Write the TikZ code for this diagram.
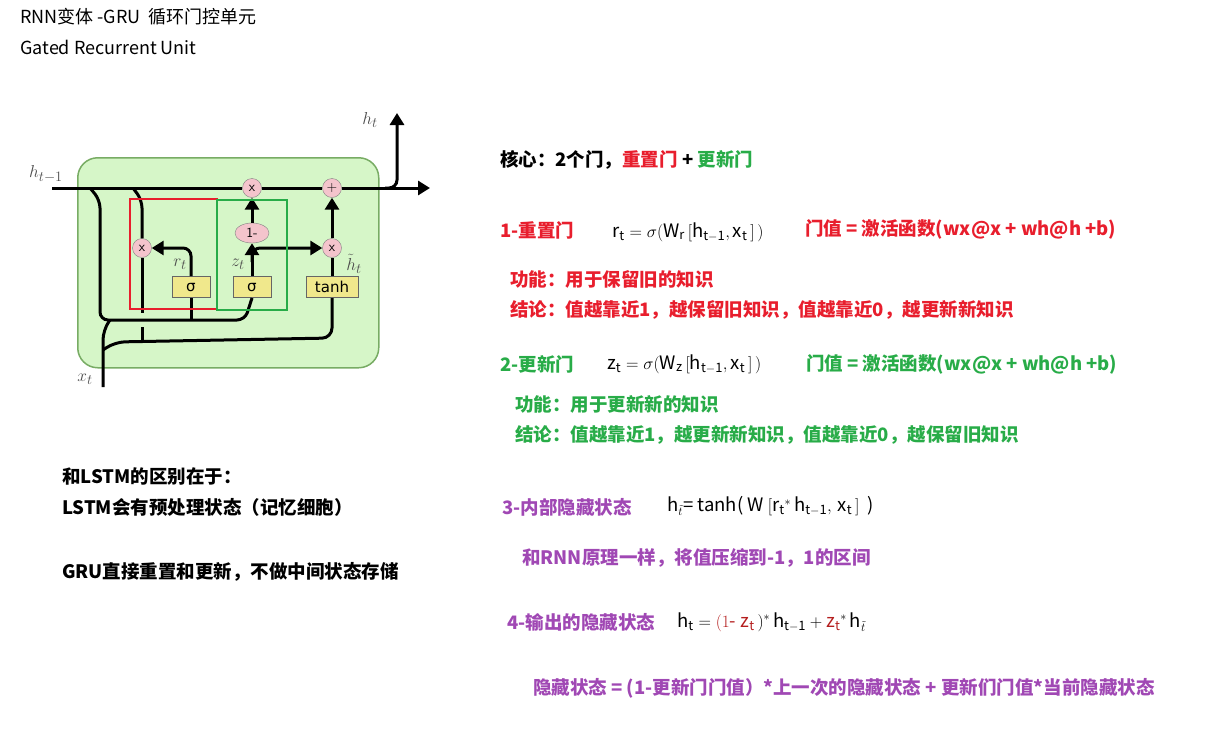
\documentclass[tikz,border=0pt]{standalone}
\usepackage{fontspec}
\setmainfont{Noto Sans CJK SC}
\newfontfamily\dejavu{DejaVu Sans}
\usetikzlibrary{arrows.meta,shapes.geometric}
\definecolor{cred}{RGB}{232,30,45}
\definecolor{cgreen}{RGB}{40,172,72}
\definecolor{cpurple}{RGB}{160,72,180}
\definecolor{cellfill}{RGB}{214,246,200}
\definecolor{cellline}{RGB}{120,172,100}
\definecolor{opfill}{RGB}{244,196,204}
\definecolor{boxfill}{RGB}{240,232,140}
\definecolor{dred}{RGB}{180,30,30}
\begin{document}
\begin{tikzpicture}[x=1pt,y=-1pt,
  txt/.style={anchor=west,inner sep=0pt,font=\fontsize{18.5}{20}\selectfont\bfseries},
  small/.style={anchor=west,inner sep=0pt,font=\fontsize{18}{20}\selectfont},
  frm/.style={anchor=west,inner sep=0pt,font=\fontsize{18.5}{20}\selectfont},
  op/.style={circle,draw=black!50,fill=opfill,minimum size=19pt,inner sep=0pt,font=\fontsize{14}{14}\selectfont\sffamily},
  gbox/.style={draw=black!60,line width=1pt,fill=boxfill,minimum height=21pt,inner sep=1pt,font=\fontsize{15}{15}\selectfont\dejavu},
  wire/.style={line width=3pt,rounded corners=8pt},
  arr/.style={wire,-{Triangle[length=12pt,width=14pt]}},
  lab/.style={inner sep=0pt,font=\fontsize{19}{19}\selectfont,text=black!70}]
\useasboundingbox (0,0) rectangle (1223,742);
% cell
\node[draw=cellline,line width=1.5pt,fill=cellfill,rounded corners=20pt,minimum width=301pt,minimum height=210pt,anchor=north west] (cell) at (77,157) {};
% ops
\node[op] (m1) at (252,188) {x};
\node[op] (pl) at (332,188) {+};
\node[op] (mr) at (142,248) {x};
\node[op] (mh) at (332,248) {x};
\node[ellipse,draw=black!50,fill=opfill,minimum width=34pt,minimum height=20pt,inner sep=0pt,font=\fontsize{14}{14}\selectfont\sffamily] (om) at (252,233) {1-};
\node[gbox,minimum width=38pt] (sr) at (191,287) {σ};
\node[gbox,minimum width=38pt] (sz) at (252,287) {σ};
\node[gbox,minimum width=52pt] (th) at (332,287) {tanh};
\coordinate (hin) at (52,188);
\coordinate (hout) at (430,188);
\coordinate (htop) at (397,113);
\coordinate (xin) at (103,387);
% wires
\draw[wire] (hin) -- (m1);
\draw[wire] (m1) -- (pl);
\draw[arr] (pl) -- (hout);
\draw[arr] (385,188) -| (htop);
\draw[wire] (90,188) -- (100,200) -- (100,320) -- (245,320) -- (sz.south);
\draw[wire] (sr.south) -- (191,320);
\draw[wire] (133,188) -- (142,200) -- (mr);
\draw[wire] (mr) -- (142,313);
\draw[wire] (142,327) -- (142,340);
\draw[wire,rounded corners=10pt] (xin) -- (103,330) -- (110,320);
\draw[wire,rounded corners=10pt] (103,350) -- (115,342) -- (332,338) -- (th.south);
\draw[arr] (sr.north) -- (191,248) -- (mr);
\draw[arr] (sz.north) -- (om);
\draw[arr] (om) -- (m1);
\draw[arr] (252,262) -- (252,248) -- (mh);
\draw[wire] (th) -- (mh);
\draw[arr] (mh) -- (pl);
% highlight boxes
\draw[cred,line width=1.5pt] (130,199) rectangle (217,309);
\draw[cgreen,line width=1.5pt] (217,200) rectangle (287,310);
% labels
\node[lab] (lh1) at (46,174) {$h_{t-1}$};
\node[lab] (lht) at (370,120) {$h_t$};
\node[lab] (lxt) at (85,379) {$x_t$};
\node[lab] (lr) at (180,264) {$r_t$};
\node[lab] (lz) at (238,264) {$z_t$};
\node[lab] (lh) at (354,264) {$\tilde h_t$};
% titles
\node[small] (t1) at (20,17) {RNN变体 -GRU\ \ 循环门控单元};
\node[small] (t2) at (20,47) {Gated Recurrent Unit};
% left notes
\node[txt] (n1) at (62,476) {和LSTM的区别在于：};
\node[txt] (n2) at (62,507) {LSTM会有预处理状态（记忆细胞）};
\node[txt] (n3) at (62,572) {GRU直接重置和更新，不做中间状态存储};
% core
\node[txt] (c0) at (500,160) {核心：2个门，\textcolor{cred}{重置门} + \textcolor{cgreen}{更新门}};
% reset gate
\node[txt,text=cred] (r1) at (500,230) {1-重置门};
\node[frm] (rf) at (612,232) {$\mathrm{r_t}=\sigma(\mathrm{W_r}\,[\mathrm{h_{t-1}},\mathrm{x_t}\,]\,)$};
\node[txt,text=cred] (r2) at (805,229) {门值 = 激活函数(wx@x + wh@h +b)};
\node[txt,text=cred] (r3) at (510,279) {功能：用于保留旧的知识};
\node[txt,text=cred] (r4) at (510,310) {结论：值越靠近1，越保留旧知识，值越靠近0，越更新新知识};
% update gate
\node[txt,text=cgreen] (z1) at (500,364) {2-更新门};
\node[frm] (zf) at (607,364) {$\mathrm{z_t}=\sigma(\mathrm{W_z}\,[\mathrm{h_{t-1}},\mathrm{x_t}\,]\,)$};
\node[txt,text=cgreen] (z2) at (806,364) {门值 = 激活函数(wx@x + wh@h +b)};
\node[txt,text=cgreen] (z3) at (515,404) {功能：用于更新新的知识};
\node[txt,text=cgreen] (z4) at (515,435) {结论：值越靠近1，越更新新知识，值越靠近0，越保留旧知识};
% hidden
\node[txt,text=cpurple] (p1) at (502,507) {3-内部隐藏状态};
\node[frm] (pf) at (667,506) {$\mathrm{h}_{\tilde t}$= tanh( W $[\mathrm{r_t}{}^{*}\,\mathrm{h_{t-1}},\,\mathrm{x_t}\,]$\ \ )};
\node[txt,text=cpurple] (p2) at (522,558) {和RNN原理一样，将值压缩到-1，1的区间};
\node[txt,text=cpurple] (p3) at (507,622) {4-输出的隐藏状态};
\node[frm] (p3f) at (677,622) {$\mathrm{h_t}=\textcolor{dred}{(1\mbox{-}\ \mathrm{z_t}}\,)^{*}\,\mathrm{h_{t-1}}+\textcolor{dred}{\mathrm{z_t}}{}^{*}\,\mathrm{h}_{\tilde t}$};
\node[txt,text=cpurple] (p4) at (533,688) {隐藏状态 = (1-更新门门值）*上一次的隐藏状态 + 更新们门值*当前隐藏状态};
\end{tikzpicture}
\end{document}
